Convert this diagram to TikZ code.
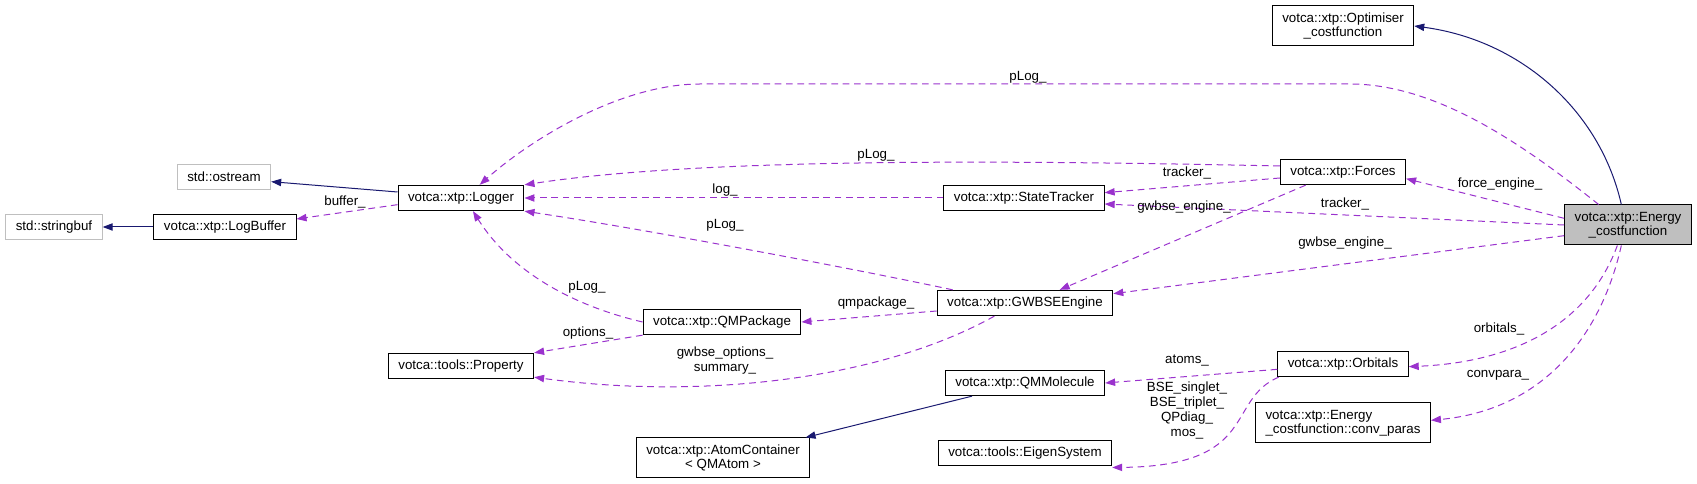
\documentclass[tikz,border=0pt]{standalone}
\usepackage{fontspec}
\setmainfont{Liberation Sans}
\usetikzlibrary{arrows.meta}
\definecolor{inhblue}{HTML}{191970}
\definecolor{usepurple}{HTML}{9A32CD}
\definecolor{extgray}{HTML}{BFBFBF}

\begin{document}
\begin{tikzpicture}[x=0.75pt, y=-0.75pt,
  every node/.style={font=\fontsize{10pt}{10.5pt}\selectfont},
  cls/.style={draw=black, line width=0.75pt, rectangle, inner xsep=7.5pt, inner ysep=0pt, minimum height=19pt, align=center},
  extcls/.style={cls, draw=extgray},
  curcls/.style={cls, fill=extgray},
  tall/.style={minimum height=30pt},
  lbl/.style={inner sep=0pt, align=center, font=\fontsize{10pt}{11.25pt}\selectfont},
  inh/.style={-{Triangle[length=7.5pt,width=5.5pt]}, draw=inhblue, line width=0.75pt},
  uses/.style={-{Triangle[length=7.5pt,width=5.5pt]}, draw=usepurple, line width=0.75pt, dash pattern=on 5pt off 3.5pt}]
\useasboundingbox (0,0) rectangle (1697,484);

\node[curcls, tall] (energy) at (1628,225) {votca::xtp::Energy\\\_costfunction};
\node[cls, tall] (optimiser) at (1343,26) {votca::xtp::Optimiser\\\_costfunction};
\node[cls] (forces) at (1343,172) {votca::xtp::Forces};
\node[cls] (statetracker) at (1024,198) {votca::xtp::StateTracker};
\node[cls] (logger) at (461,198) {votca::xtp::Logger};
\node[extcls] (ostream) at (224,177) {std::ostream};
\node[cls] (logbuffer) at (225,227) {votca::xtp::LogBuffer};
\node[extcls] (stringbuf) at (54,227) {std::stringbuf};
\node[cls] (gwbse) at (1025,303) {votca::xtp::GWBSEEngine};
\node[cls] (qmpackage) at (722,322) {votca::xtp::QMPackage};
\node[cls] (property) at (461,366) {votca::tools::Property};
\node[cls] (qmmolecule) at (1025,383) {votca::xtp::QMMolecule};
\node[cls, tall] (atomcontainer) at (723,458) {votca::xtp::AtomContainer\\< QMAtom >};
\node[cls] (eigensystem) at (1025,453) {votca::tools::EigenSystem};
\node[cls] (orbitals) at (1343,364) {votca::xtp::Orbitals};
\node[cls, tall, align=left] (convparas) at (1343,423) {votca::xtp::Energy\\\_costfunction::conv\_paras};

\draw[inh] ([xshift=-5pt]energy.north) .. controls (1600,110) and (1520,40) .. (optimiser.east);
\draw[inh] ([yshift=4.5pt]logger.west) -- ([yshift=-3.5pt]ostream.east);
\draw[inh] (logbuffer.west) -- (stringbuf.east);
\draw[inh] (qmmolecule) -- (atomcontainer);

\draw[uses] ([xshift=-22pt]energy.north) .. controls (1530,150) and (1440,84) .. (1350,84) -- (700,84) .. controls (620,84) and (530,140) .. ([xshift=14pt]logger.north);
\draw[uses] ([yshift=4.5pt]forces.west) .. controls (1000,160) and (700,158) .. (logger.north east);
\draw[uses] (statetracker.west) -- (logger.east);
\draw[uses] ([xshift=12pt]gwbse.north west) .. controls (860,270) and (650,230) .. (logger.south east);
\draw[uses] (qmpackage.west) .. controls (570,305) and (510,270) .. ([xshift=9pt]logger.south);
\draw[uses] ([yshift=-5pt]logger.west) -- ([yshift=6pt]logbuffer.east);
\draw[uses] (qmpackage.south west) -- (property.north east);
\draw[uses] ([xshift=-23pt]gwbse.south) .. controls (880,380) and (700,400) .. ([yshift=1.5pt]property.south east);
\draw[uses] ([yshift=-6pt]gwbse.west) -- (qmpackage.east);
\draw[uses] ([yshift=-4.5pt]forces.west) -- ([yshift=4pt]statetracker.east);
\draw[uses] ([xshift=-28pt]forces.south) -- ([xshift=26pt]gwbse.north);
\draw[uses] ([yshift=5pt]energy.west) -- ([yshift=-5pt]forces.east);
\draw[uses] (energy.west) -- ([yshift=-4.5pt]statetracker.east);
\draw[uses] ([yshift=-8pt]energy.west) -- ([yshift=7pt]gwbse.east);
\draw[uses] ([xshift=-8pt]energy.south) .. controls (1590,320) and (1520,362) .. ([yshift=-2pt]orbitals.east);
\draw[uses] ([xshift=-5pt]energy.south) .. controls (1600,340) and (1540,410) .. ([yshift=2pt]convparas.east);
\draw[uses] ([yshift=-4pt]orbitals.west) -- (qmmolecule.east);
\draw[uses] ([xshift=1pt]orbitals.south west) .. controls (1225,400) and (1260,466) .. ([yshift=-1pt]eigensystem.south east);

\node[lbl] (lbPlogTop) at (1028,77) {pLog\_};
\node[lbl] (lbPlogForces) at (876,155) {pLog\_};
\node[lbl] (lbLog) at (725,190) {log\_};
\node[lbl] (lbPlogGwbse) at (725,225) {pLog\_};
\node[lbl] (lbPlogQm) at (587,287) {pLog\_};
\node[lbl] (lbBuffer) at (345,202) {buffer\_};
\node[lbl] (lbOptions) at (588,333) {options\_};
\node[lbl] (lbGwbseOpt) at (725,361) {gwbse\_options\_\\summary\_};
\node[lbl] (lbQmpackage) at (876,303) {qmpackage\_};
\node[lbl] (lbTrackerA) at (1187,173) {tracker\_};
\node[lbl] (lbGwbseA) at (1184,207) {gwbse\_engine\_};
\node[lbl] (lbForceEng) at (1500,184) {force\_engine\_};
\node[lbl] (lbTrackerB) at (1345,204) {tracker\_};
\node[lbl] (lbGwbseB) at (1345,243) {gwbse\_engine\_};
\node[lbl] (lbOrbitals) at (1499,329) {orbitals\_};
\node[lbl] (lbConvpara) at (1498,375) {convpara\_};
\node[lbl] (lbAtoms) at (1187,361) {atoms\_};
\node[lbl] (lbEigen) at (1187,410) {BSE\_singlet\_\\BSE\_triplet\_\\QPdiag\_\\mos\_};
\end{tikzpicture}
\end{document}
